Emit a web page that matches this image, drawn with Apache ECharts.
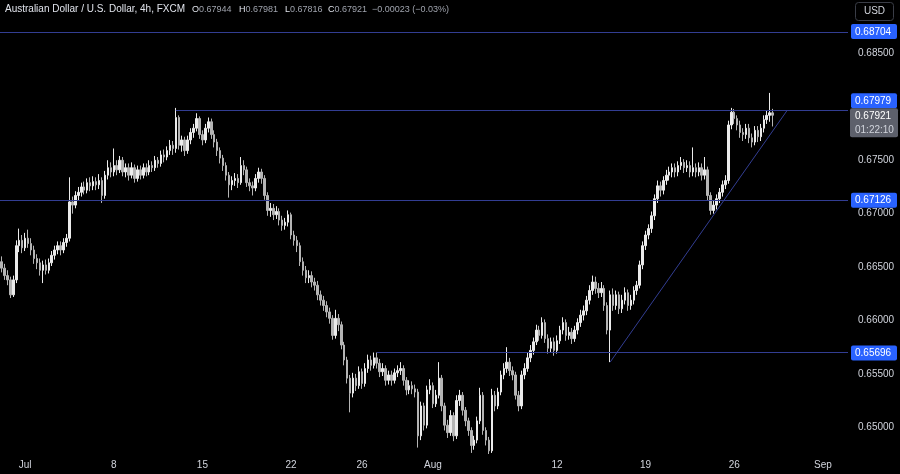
<!DOCTYPE html>
<html><head><meta charset="utf-8">
<script src="https://cdn.jsdelivr.net/npm/echarts@6/dist/echarts.min.js"></script>
<style>html,body{margin:0;padding:0;background:#000;}#c{width:900px;height:474px;}</style>
</head><body><div id="c"></div>
<script>
// ---- data ----
const symbolTitle = 'Australian Dollar / U.S. Dollar, 4h, FXCM';
const currency = 'USD';
const countdown = '01:22:10';
const levels = [0.68704, 0.67979, 0.67126, 0.65696];
const levelStartBar = [null, 59, null, 127];
const trendFrom = [206, 0.6561];
const trendTo = [266, 0.6797];
const tickLabels = {'2024-07-01':'Jul','2024-07-08':'8','2024-07-15':'15','2024-07-22':'22','2024-07-26':'26',
  '2024-08-01':'Aug','2024-08-12':'12','2024-08-19':'19','2024-08-26':'26','2024-09-02':'Sep'};
const yTicks = [0.65, 0.655, 0.66, 0.665, 0.67, 0.675, 0.685];
// [open, close, low, high]
const ohlc = [
[0.6655,0.6649,0.6645,0.6660],[0.6649,0.6642,0.6638,0.6653],[0.6642,0.6638,0.6633,0.6647],[0.6638,0.6624,0.6621,0.6641],
[0.6624,0.6638,0.6622,0.6642],[0.6638,0.6670,0.6635,0.6675],[0.6670,0.6675,0.6664,0.6686],[0.6675,0.6668,0.6663,0.6680],
[0.6668,0.6677,0.6665,0.6682],[0.6677,0.6672,0.6668,0.6685],[0.6672,0.6666,0.6661,0.6677],[0.6666,0.6658,0.6653,0.6670],
[0.6658,0.6654,0.6648,0.6662],[0.6654,0.6647,0.6642,0.6658],[0.6647,0.6652,0.6635,0.6656],[0.6652,0.6647,0.6643,0.6657],
[0.6647,0.6654,0.6644,0.6658],[0.6654,0.6661,0.6651,0.6665],[0.6661,0.6666,0.6657,0.6670],[0.6666,0.6670,0.6662,0.6674],
[0.6670,0.6666,0.6661,0.6674],[0.6666,0.6673,0.6663,0.6677],[0.6673,0.6677,0.6669,0.6681],[0.6677,0.6711,0.6674,0.6734],
[0.6711,0.6708,0.6700,0.6716],[0.6708,0.6717,0.6705,0.6721],[0.6717,0.6720,0.6712,0.6725],[0.6720,0.6725,0.6716,0.6729],
[0.6725,0.6722,0.6718,0.6730],[0.6722,0.6729,0.6719,0.6733],[0.6729,0.6726,0.6721,0.6734],[0.6726,0.6730,0.6722,0.6735],
[0.6730,0.6727,0.6722,0.6734],[0.6727,0.6731,0.6723,0.6737],[0.6731,0.6717,0.6710,0.6734],[0.6717,0.6736,0.6714,0.6740],
[0.6736,0.6743,0.6732,0.6750],[0.6743,0.6739,0.6734,0.6748],[0.6739,0.6745,0.6735,0.6761],[0.6745,0.6741,0.6736,0.6750],
[0.6741,0.6750,0.6738,0.6754],[0.6750,0.6739,0.6735,0.6753],[0.6739,0.6743,0.6734,0.6747],[0.6743,0.6736,0.6731,0.6747],
[0.6736,0.6743,0.6733,0.6748],[0.6743,0.6733,0.6729,0.6746],[0.6733,0.6741,0.6730,0.6745],[0.6741,0.6736,0.6732,0.6745],
[0.6736,0.6743,0.6733,0.6747],[0.6743,0.6739,0.6735,0.6747],[0.6739,0.6745,0.6736,0.6750],[0.6745,0.6743,0.6739,0.6749],
[0.6743,0.6750,0.6740,0.6754],[0.6750,0.6747,0.6743,0.6753],[0.6747,0.6755,0.6744,0.6759],[0.6755,0.6753,0.6748,0.6760],
[0.6753,0.6759,0.6750,0.6763],[0.6759,0.6764,0.6755,0.6769],[0.6764,0.6761,0.6755,0.6768],[0.6761,0.6790,0.6757,0.6799],
[0.6790,0.6764,0.6760,0.6792],[0.6764,0.6769,0.6758,0.6773],[0.6769,0.6759,0.6754,0.6772],[0.6759,0.6769,0.6756,0.6773],
[0.6769,0.6776,0.6765,0.6780],[0.6776,0.6780,0.6771,0.6784],[0.6780,0.6789,0.6777,0.6794],[0.6789,0.6774,0.6770,0.6791],
[0.6774,0.6769,0.6764,0.6778],[0.6769,0.6780,0.6766,0.6784],[0.6780,0.6786,0.6776,0.6790],[0.6786,0.6774,0.6770,0.6789],
[0.6774,0.6767,0.6762,0.6778],[0.6767,0.6759,0.6754,0.6770],[0.6759,0.6752,0.6747,0.6762],[0.6752,0.6745,0.6740,0.6755],
[0.6745,0.6736,0.6731,0.6748],[0.6736,0.6727,0.6715,0.6739],[0.6727,0.6731,0.6722,0.6735],[0.6731,0.6733,0.6726,0.6738],
[0.6733,0.6729,0.6724,0.6737],[0.6729,0.6745,0.6727,0.6753],[0.6745,0.6741,0.6736,0.6750],[0.6741,0.6729,0.6725,0.6744],
[0.6729,0.6726,0.6721,0.6733],[0.6726,0.6724,0.6717,0.6730],[0.6724,0.6733,0.6721,0.6737],[0.6733,0.6739,0.6729,0.6743],
[0.6739,0.6733,0.6728,0.6742],[0.6733,0.6717,0.6713,0.6736],[0.6717,0.6703,0.6698,0.6720],[0.6703,0.6705,0.6697,0.6710],
[0.6705,0.6699,0.6694,0.6709],[0.6699,0.6702,0.6695,0.6707],[0.6702,0.6694,0.6689,0.6705],[0.6694,0.6689,0.6684,0.6698],
[0.6689,0.6692,0.6685,0.6696],[0.6692,0.6699,0.6688,0.6703],[0.6699,0.6680,0.6676,0.6701],[0.6680,0.6675,0.6670,0.6684],
[0.6675,0.6670,0.6664,0.6679],[0.6670,0.6655,0.6651,0.6673],[0.6655,0.6647,0.6642,0.6659],[0.6647,0.6640,0.6635,0.6651],
[0.6640,0.6642,0.6635,0.6647],[0.6642,0.6636,0.6631,0.6646],[0.6636,0.6633,0.6628,0.6640],[0.6633,0.6624,0.6619,0.6637],
[0.6624,0.6619,0.6614,0.6628],[0.6619,0.6614,0.6609,0.6623],[0.6614,0.6608,0.6603,0.6618],[0.6608,0.6602,0.6597,0.6612],
[0.6602,0.6586,0.6582,0.6605],[0.6586,0.6602,0.6583,0.6610],[0.6602,0.6596,0.6590,0.6606],[0.6596,0.6577,0.6573,0.6599],
[0.6577,0.6563,0.6558,0.6580],[0.6563,0.6546,0.6541,0.6566],[0.6546,0.6532,0.6514,0.6549],[0.6532,0.6546,0.6528,0.6551],
[0.6546,0.6539,0.6534,0.6550],[0.6539,0.6552,0.6536,0.6557],[0.6552,0.6541,0.6536,0.6555],[0.6541,0.6555,0.6538,0.6560],
[0.6555,0.6563,0.6551,0.6568],[0.6563,0.6558,0.6553,0.6567],[0.6558,0.6565,0.6555,0.6570],[0.6565,0.6560,0.6555,0.6570],
[0.6560,0.6552,0.6547,0.6564],[0.6552,0.6555,0.6548,0.6560],[0.6555,0.6544,0.6539,0.6558],[0.6544,0.6549,0.6540,0.6553],
[0.6549,0.6544,0.6539,0.6553],[0.6544,0.6551,0.6541,0.6555],[0.6551,0.6553,0.6547,0.6558],[0.6553,0.6555,0.6549,0.6561],
[0.6555,0.6544,0.6539,0.6558],[0.6544,0.6535,0.6530,0.6547],[0.6535,0.6539,0.6531,0.6544],[0.6539,0.6536,0.6531,0.6543],
[0.6536,0.6533,0.6528,0.6540],[0.6533,0.6492,0.6481,0.6536],[0.6492,0.6520,0.6488,0.6524],[0.6520,0.6502,0.6497,0.6523],
[0.6502,0.6535,0.6499,0.6539],[0.6535,0.6539,0.6531,0.6545],[0.6539,0.6522,0.6518,0.6542],[0.6522,0.6530,0.6519,0.6535],
[0.6530,0.6546,0.6527,0.6561],[0.6546,0.6520,0.6515,0.6549],[0.6520,0.6502,0.6497,0.6523],[0.6502,0.6495,0.6490,0.6507],
[0.6495,0.6511,0.6492,0.6516],[0.6511,0.6492,0.6487,0.6514],[0.6492,0.6525,0.6489,0.6530],[0.6525,0.6530,0.6520,0.6535],
[0.6530,0.6516,0.6511,0.6533],[0.6516,0.6506,0.6501,0.6519],[0.6506,0.6497,0.6492,0.6509],[0.6497,0.6483,0.6476,0.6500],
[0.6483,0.6488,0.6479,0.6492],[0.6488,0.6506,0.6485,0.6510],[0.6506,0.6530,0.6503,0.6537],[0.6530,0.6497,0.6493,0.6533],
[0.6497,0.6488,0.6483,0.6500],[0.6488,0.6478,0.6475,0.6491],[0.6478,0.6530,0.6476,0.6536],[0.6530,0.6520,0.6515,0.6534],
[0.6520,0.6533,0.6517,0.6537],[0.6533,0.6549,0.6530,0.6553],[0.6549,0.6555,0.6545,0.6560],[0.6555,0.6561,0.6551,0.6575],
[0.6561,0.6553,0.6548,0.6565],[0.6553,0.6549,0.6544,0.6557],[0.6549,0.6530,0.6526,0.6552],[0.6530,0.6520,0.6515,0.6534],
[0.6520,0.6549,0.6517,0.6553],[0.6549,0.6555,0.6545,0.6560],[0.6555,0.6565,0.6552,0.6570],[0.6565,0.6572,0.6561,0.6577],
[0.6572,0.6580,0.6568,0.6584],[0.6580,0.6591,0.6577,0.6596],[0.6591,0.6586,0.6581,0.6595],[0.6586,0.6598,0.6583,0.6603],
[0.6598,0.6583,0.6579,0.6601],[0.6583,0.6574,0.6569,0.6587],[0.6574,0.6580,0.6570,0.6584],[0.6580,0.6572,0.6567,0.6584],
[0.6572,0.6581,0.6569,0.6586],[0.6581,0.6591,0.6578,0.6595],[0.6591,0.6598,0.6587,0.6603],[0.6598,0.6586,0.6581,0.6601],
[0.6586,0.6589,0.6582,0.6594],[0.6589,0.6583,0.6578,0.6593],[0.6583,0.6591,0.6580,0.6595],[0.6591,0.6598,0.6587,0.6602],
[0.6598,0.6605,0.6594,0.6610],[0.6605,0.6609,0.6600,0.6614],[0.6609,0.6619,0.6605,0.6623],[0.6619,0.6628,0.6615,0.6633],
[0.6628,0.6636,0.6624,0.6642],[0.6636,0.6630,0.6625,0.6641],[0.6630,0.6626,0.6621,0.6635],[0.6626,0.6630,0.6622,0.6636],
[0.6630,0.6614,0.6609,0.6633],[0.6614,0.6591,0.6587,0.6617],[0.6591,0.6624,0.6561,0.6628],[0.6624,0.6614,0.6609,0.6630],
[0.6614,0.6624,0.6610,0.6628],[0.6624,0.6611,0.6606,0.6627],[0.6611,0.6619,0.6607,0.6624],[0.6619,0.6626,0.6615,0.6631],
[0.6626,0.6614,0.6609,0.6629],[0.6614,0.6619,0.6610,0.6624],[0.6619,0.6628,0.6615,0.6632],[0.6628,0.6633,0.6624,0.6637],
[0.6633,0.6652,0.6630,0.6656],[0.6652,0.6670,0.6648,0.6674],[0.6670,0.6680,0.6666,0.6684],[0.6680,0.6686,0.6676,0.6690],
[0.6686,0.6698,0.6682,0.6702],[0.6698,0.6714,0.6694,0.6718],[0.6714,0.6726,0.6710,0.6731],[0.6726,0.6722,0.6716,0.6730],
[0.6722,0.6731,0.6718,0.6735],[0.6731,0.6736,0.6727,0.6741],[0.6736,0.6739,0.6731,0.6744],[0.6739,0.6743,0.6734,0.6747],
[0.6743,0.6739,0.6734,0.6747],[0.6739,0.6745,0.6735,0.6749],[0.6745,0.6748,0.6741,0.6753],[0.6748,0.6743,0.6738,0.6751],
[0.6743,0.6745,0.6739,0.6750],[0.6745,0.6739,0.6734,0.6749],[0.6739,0.6743,0.6735,0.6762],[0.6743,0.6739,0.6734,0.6747],
[0.6739,0.6743,0.6735,0.6748],[0.6743,0.6736,0.6731,0.6747],[0.6736,0.6741,0.6732,0.6753],[0.6741,0.6717,0.6712,0.6744],
[0.6717,0.6703,0.6699,0.6720],[0.6703,0.6708,0.6700,0.6712],[0.6708,0.6714,0.6704,0.6718],[0.6714,0.6720,0.6710,0.6724],
[0.6720,0.6727,0.6716,0.6731],[0.6727,0.6731,0.6723,0.6736],[0.6731,0.6783,0.6728,0.6787],[0.6783,0.6795,0.6779,0.6799],
[0.6795,0.6789,0.6784,0.6798],[0.6789,0.6783,0.6778,0.6792],[0.6783,0.6776,0.6771,0.6787],[0.6776,0.6774,0.6768,0.6780],
[0.6774,0.6780,0.6770,0.6784],[0.6780,0.6771,0.6766,0.6784],[0.6771,0.6767,0.6762,0.6775],[0.6767,0.6778,0.6764,0.6782],
[0.6778,0.6772,0.6767,0.6782],[0.6772,0.6780,0.6768,0.6784],[0.6780,0.6788,0.6776,0.6792],[0.6788,0.6792,0.6784,0.6797],
[0.6792,0.67944,0.6786,0.6813],[0.67944,0.67921,0.67816,0.67981]
];

// ---- calendar (4h bars, weekdays only) ----
const SLOTS = 287;
const categories = [];
(function(){
  let d = new Date(Date.UTC(2024,5,27));
  let first = true;
  while (categories.length < SLOTS) {
    const wd = d.getUTCDay();
    if (wd !== 0 && wd !== 6) {
      for (let h = first ? 4 : 0; h < 6 && categories.length < SLOTS; h++) {
        categories.push(d.toISOString().slice(0,10) + ' ' + String(h*4).padStart(2,'0') + ':00');
      }
      first = false;
    }
    d = new Date(d.getTime() + 86400000);
  }
})();

const FONT = '"Liberation Sans", Arial, sans-serif';
const LINE = '#323d92';
const BLUE = '#2962ff';
const last = ohlc[ohlc.length-1];
const prevClose = ohlc[ohlc.length-2][1];
const chg = last[1] - prevClose;
const ls = {color:LINE, width:1, type:'solid', opacity:1};

const chart = echarts.init(document.getElementById('c'), null, {renderer:'canvas'});
chart.setOption({
  backgroundColor:'#000000',
  animation:false,
  textStyle:{fontFamily:FONT},
  grid:{left:0, right:52, top:0, bottom:20},
  xAxis:{type:'category', data:categories, boundaryGap:true,
    axisLine:{show:false}, axisTick:{show:false}, splitLine:{show:false},
    axisLabel:{color:'#d1d4dc', fontSize:10, fontFamily:FONT, margin:6,
      interval:(i,v)=> v.slice(11)==='00:00' && tickLabels[v.slice(0,10)]!==undefined,
      formatter:v=> tickLabels[v.slice(0,10)] || ''}},
  yAxis:{type:'value', position:'right', min:0.6475, max:0.69, interval:0.0025, scale:true,
    axisLine:{show:false}, axisTick:{show:false}, splitLine:{show:false},
    axisLabel:{color:'#d1d4dc', fontSize:10, fontFamily:FONT, margin:10,
      formatter:v=> yTicks.some(t=>Math.abs(t-v)<1e-7) ? v.toFixed(5) : ''}},
  series:[{
    type:'candlestick', data:ohlc, barWidth:2,
    itemStyle:{color:'#ebebeb', color0:'#b4b4b4', borderColor:'#ebebeb', borderColor0:'#b4b4b4', borderWidth:1},
    markLine:{symbol:'none', silent:true, animation:false, z:3,
      lineStyle:ls, label:{show:false}, emphasis:{disabled:true},
      data:[[{coord:[categories[trendFrom[0]], trendFrom[1]]}, {coord:[categories[trendTo[0]], trendTo[1]]}]]}
  }]
});

// level lines and price-scale labels, positioned through the chart's own scales
const gridRight = chart.convertToPixel({xAxisIndex:0}, categories[SLOTS-1]) + 1.5;
const toY = v => chart.convertToPixel({yAxisIndex:0}, v);
const snap = y => 2*Math.round(y/2) + 0.5;
const yCur = toY(last[1]);
const curTop = yCur - 7, curH = 29;
const g = [];
levels.forEach((v,i) => {
  const y = snap(toY(v));
  const x0 = levelStartBar[i]==null ? 0 : chart.convertToPixel({xAxisIndex:0}, categories[levelStartBar[i]]);
  g.push({type:'line', shape:{x1:x0, y1:y, x2:gridRight, y2:y}, style:{stroke:LINE, lineWidth:1}, z:5, silent:true});
  let cy = toY(v);
  const h = 15;
  if (cy + h/2 > curTop && cy - h/2 < curTop + curH) cy = curTop - h/2; // keep clear of current-price tag
  g.push({type:'rect', shape:{x:851, y:cy-h/2, width:46, height:h, r:2}, style:{fill:BLUE}, z:20, silent:true});
  g.push({type:'text', x:855, y:cy+0.5, style:{text:v.toFixed(5), fill:'#ffffff', font:'10px '+FONT, verticalAlign:'middle'}, z:21, silent:true});
});
const fmt = v => v.toFixed(5);
const sign = v => (v<0 ? '\u2212' : '+') + Math.abs(v).toFixed(5);
const vf = '9px ' + FONT;
const rich = {k:{fill:'#e0e3eb', font:vf}, v:{fill:'#9fa3ad', font:vf}};
g.push(
  {type:'rect', shape:{x:850, y:curTop, width:48, height:curH, r:2}, style:{fill:'#5d606b'}, z:22},
  {type:'text', x:855, y:yCur+1, style:{text:fmt(last[1]), fill:'#ffffff', font:'10px '+FONT, verticalAlign:'middle'}, z:23},
  {type:'text', x:855, y:yCur+15, style:{text:countdown, fill:'#d1d4dc', font:'10px '+FONT, verticalAlign:'middle'}, z:23},
  {type:'text', left:5, top:4, style:{text:symbolTitle, fill:'#e0e3eb', font:'10px '+FONT}},
  {type:'text', left:192, top:5, style:{text:'{k|O}{v|'+fmt(last[0])+'}', rich:rich}},
  {type:'text', left:239, top:5, style:{text:'{k|H}{v|'+fmt(last[3])+'}', rich:rich}},
  {type:'text', left:285, top:5, style:{text:'{k|L}{v|'+fmt(last[2])+'}', rich:rich}},
  {type:'text', left:328, top:5, style:{text:'{k|C}{v|'+fmt(last[1])+'}', rich:rich}},
  {type:'text', left:372, top:5, style:{text:sign(chg)+' ('+(chg/prevClose*100<0?'\u2212':'+')+Math.abs(chg/prevClose*100).toFixed(2)+'%)', fill:'#9fa3ad', font:vf}},
  {type:'rect', shape:{x:855.5, y:2.5, width:38, height:18, r:3}, style:{fill:'#000', stroke:'#3a3d47', lineWidth:1}},
  {type:'text', x:874.5, y:11.5, style:{text:currency, fill:'#d1d4dc', font:'10px '+FONT, align:'center', verticalAlign:'middle'}}
);
chart.setOption({graphic:g});
</script>
</body></html>
